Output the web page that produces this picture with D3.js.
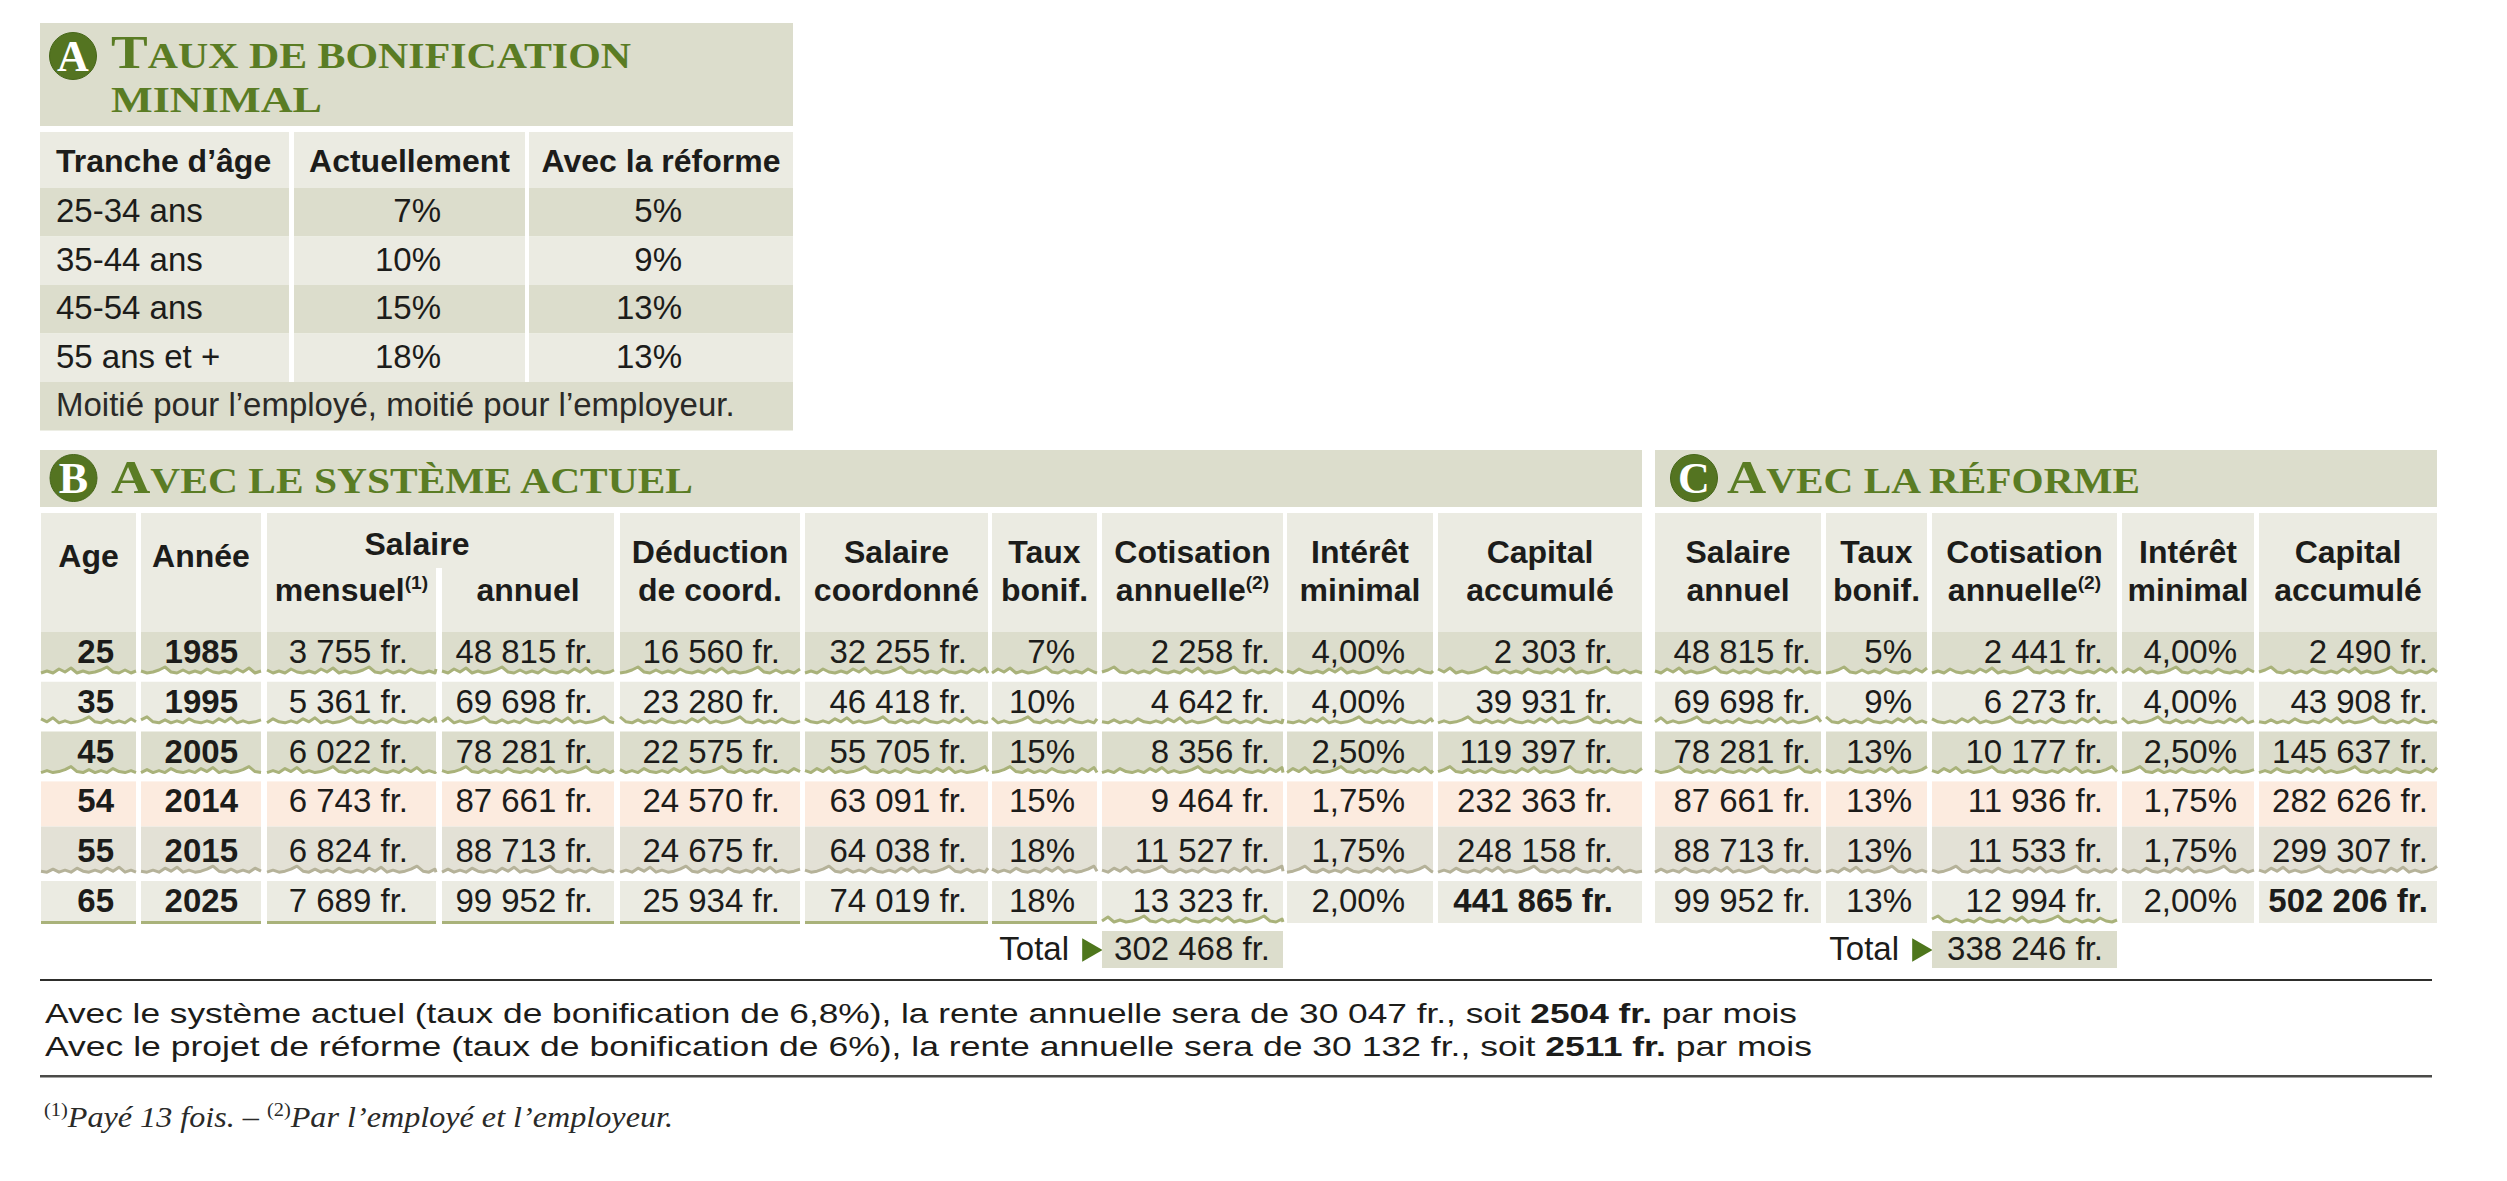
<!DOCTYPE html>
<html>
<head>
<meta charset="utf-8">
<script src="https://cdn.jsdelivr.net/npm/d3@7"></script>
<style>
  body { margin: 0; background: #fff; }
</style>
</head>
<body>
<script>
// ---- Data ----
var tranches = ["25-34 ans", "35-44 ans", "45-54 ans", "55 ans et +"];
var tauxActuels = [7, 10, 15, 18];
var tauxReforme = [5, 9, 13, 13];

var ages = [25, 35, 45, 54, 55, 65];
var annees = [1985, 1995, 2005, 2014, 2015, 2025];
var salaireMensuel = [3755, 5361, 6022, 6743, 6824, 7689];
var salaireAnnuel = [48815, 69698, 78281, 87661, 88713, 99952];
var deductionCoord = [16560, 23280, 22575, 24570, 24675, 25934];
var salaireCoord = [32255, 46418, 55705, 63091, 64038, 74019];
var bonifActuel = [7, 10, 15, 15, 18, 18];
var cotisationActuel = [2258, 4642, 8356, 9464, 11527, 13323];
var interetMinimal = [4, 4, 2.5, 1.75, 1.75, 2];
var capitalActuel = [2303, 39931, 119397, 232363, 248158, 441865];

var bonifReforme = [5, 9, 13, 13, 13, 13];
var cotisationReforme = [2441, 6273, 10177, 11936, 11533, 12994];
var capitalReforme = [2490, 43908, 145637, 282626, 299307, 502206];

var totalActuel = 302468;
var totalReforme = 338246;

var headersA = ["Tranche d\u2019âge", "Actuellement", "Avec la réforme"];
var noteA = "Moitié pour l\u2019employé, moitié pour l\u2019employeur.";
var headersB = [["Age"], ["Année"], ["mensuel^(1)"], ["annuel"], ["Déduction", "de coord."],
                ["Salaire", "coordonné"], ["Taux", "bonif."], ["Cotisation", "annuelle^(2)"],
                ["Intérêt", "minimal"], ["Capital", "accumulé"]];
var headersC = [["Salaire", "annuel"], ["Taux", "bonif."], ["Cotisation", "annuelle^(2)"],
                ["Intérêt", "minimal"], ["Capital", "accumulé"]];

// ---- Styles ----
var sans = "'Liberation Sans', Arial, Helvetica, sans-serif";
var serif = "'Liberation Serif', 'Times New Roman', serif";
var ink = "#1c1c1a";
var green = "#5a7c24";
var badge = "#547421";
var fills = { dark: "#dcddcc", light: "#ebebe2", pink: "#fcebdf", grey: "#e3e1d6" };
var jagColor = "#a9b27a", jagGrey = "#b5b299";

var loc = d3.formatLocale({ decimal: ",", thousands: " ", grouping: [3], currency: ["", ""] });
var fInt = loc.format(",d"), fDec = loc.format(",.2f");
var money = function(v) { return fInt(v) + " fr."; };
var pct = function(v) { return v + "%"; };
var pct2 = function(v) { return fDec(v) + "%"; };

var svg = d3.select("body").append("svg")
    .attr("width", 2507)
    .attr("height", 1181);

// text helper, "^(n)" marks a superscript note
function label(g, x, y, str, o) {
    o = o || {};
    var t = g.append("text")
        .attr("x", x).attr("y", y)
        .attr("font-family", o.family || sans)
        .attr("font-size", o.size || 33)
        .attr("font-weight", o.bold ? "bold" : "normal")
        .attr("text-anchor", o.anchor || "start")
        .attr("fill", o.fill || ink);
    var parts = String(str).split("^");
    t.append("tspan").text(parts[0]);
    if (parts[1]) {
        t.append("tspan").attr("font-size", (o.size || 33) * 0.6).attr("dy", -12).text(parts[1]);
    }
    return t;
}

function titleBadge(g, cx, cy, letter) {
    g.append("circle").attr("cx", cx).attr("cy", cy).attr("r", 23.5)
        .attr("fill", badge).attr("stroke", "#46661a").attr("stroke-width", 1);
    g.append("text").attr("x", cx).attr("y", cy + 15)
        .attr("text-anchor", "middle")
        .attr("font-family", serif).attr("font-weight", "bold")
        .attr("font-size", 44).attr("fill", "#fff")
        .text(letter);
}

function smallCaps(g, x, y, str, firstBig, len) {
    var t = g.append("text").attr("x", x).attr("y", y)
        .attr("font-family", serif).attr("font-weight", "bold").attr("fill", green);
    if (firstBig) {
        t.append("tspan").attr("font-size", 46).text(str[0].toUpperCase());
        t.append("tspan").attr("font-size", 35).text(str.slice(1).toUpperCase());
    } else {
        t.append("tspan").attr("font-size", 35).text(str.toUpperCase());
    }
    t.attr("textLength", len).attr("lengthAdjust", "spacingAndGlyphs");
}

// torn-edge line under a cell
var jagPattern = [0, 2, 0, 4, 1, 5, 0, 2, 0, 1, 3, 6, 1, 0, 3, 0, 2, 0, 4, 1];
function jagPoints(x0, x1, yb, seed) {
    var pts = [], k = 0;
    for (var x = x0; x < x1; x += 6, k++) {
        pts.push([x, yb - jagPattern[(k + seed) % jagPattern.length]]);
    }
    pts.push([x1, yb - jagPattern[(k + seed) % jagPattern.length]]);
    return pts;
}

// ================= A : Taux de bonification minimal =================
var gA = svg.append("g").attr("id", "table-a");
var aX0 = 40, aX1 = 793;
gA.append("rect").attr("x", aX0).attr("y", 23).attr("width", aX1 - aX0).attr("height", 103).attr("fill", fills.dark);
titleBadge(gA, 73, 56, "A");
smallCaps(gA, 111, 68, "Taux de bonification", true, 520);
smallCaps(gA, 111, 112, "minimal", false, 211);

var colsA = [{ x0: 40, x1: 289 }, { x0: 294, x1: 525 }, { x0: 529, x1: 793 }];
var yA = d3.scaleBand().domain(d3.range(tranches.length + 1)).range([188, 430.5]);

colsA.forEach(function(c) {
    gA.append("rect").attr("x", c.x0).attr("y", 132).attr("width", c.x1 - c.x0).attr("height", 56.5).attr("fill", fills.light);
    gA.selectAll(null).data(tranches).enter().append("rect")
        .attr("x", c.x0).attr("y", function(d, i) { return yA(i); })
        .attr("width", c.x1 - c.x0).attr("height", yA.bandwidth())
        .attr("fill", function(d, i) { return i % 2 ? fills.light : fills.dark; });
});
gA.append("rect").attr("x", aX0).attr("y", yA(tranches.length)).attr("width", aX1 - aX0)
    .attr("height", yA.bandwidth()).attr("fill", fills.dark);

label(gA, 56, 172, headersA[0], { bold: true, size: 32 });
label(gA, 409.5, 172, headersA[1], { bold: true, size: 32, anchor: "middle" });
label(gA, 661, 172, headersA[2], { bold: true, size: 32, anchor: "middle" });

tranches.forEach(function(t, i) {
    var by = yA(i) + 34;
    label(gA, 56, by, t);
    label(gA, 441, by, pct(tauxActuels[i]), { anchor: "end" });
    label(gA, 682, by, pct(tauxReforme[i]), { anchor: "end" });
});
label(gA, 56, yA(tranches.length) + 34, noteA, { fill: "#2a2a28" });

// ================= B and C : detail tables =================
var rowKind = ["dark", "light", "dark", "pink", "grey", "light"];
var yB = d3.scaleBand().domain(d3.range(ages.length)).range([632, 632 + 49.8 * ages.length]);
function rowTop(i) {
    if (i > 0 && rowKind[i - 1] === "pink") return yB(i - 1) + 45;
    return yB(i);
}

function drawCells(g, col, ci) {
    col.values.forEach(function(v, i) {
        var top = rowTop(i), fill = fills[rowKind[i]];
        var last = i === col.values.length - 1;
        var kind = rowKind[i] === "pink" ? "pink" : (last ? col.lastEdge : "jag");
        var yb = yB(i) + 41;
        if (kind === "jag") {
            var pts = jagPoints(col.x0, col.x1, yb, ci * 7 + i * 3);
            var poly = [[col.x0, top], [col.x1, top]].concat(pts.slice().reverse());
            g.append("path").attr("d", d3.line()(poly) + "Z").attr("fill", fill);
            g.append("path").attr("d", d3.line()(pts)).attr("fill", "none")
                .attr("stroke", rowKind[i] === "grey" ? jagGrey : jagColor)
                .attr("stroke-width", 3).attr("stroke-linejoin", "round");
        } else if (kind === "pink") {
            g.append("rect").attr("x", col.x0).attr("y", top).attr("width", col.x1 - col.x0)
                .attr("height", 45).attr("fill", fill);
        } else if (kind === "line") {
            g.append("rect").attr("x", col.x0).attr("y", top).attr("width", col.x1 - col.x0)
                .attr("height", yb - top).attr("fill", fill);
            g.append("rect").attr("x", col.x0).attr("y", yb - 1).attr("width", col.x1 - col.x0)
                .attr("height", 3).attr("fill", jagColor);
        } else {
            g.append("rect").attr("x", col.x0).attr("y", top).attr("width", col.x1 - col.x0)
                .attr("height", yb + 1 - top).attr("fill", fill);
        }
        var boldCell = col.bold || (last && col.boldLast);
        label(g, col.tx, yB(i) + 31, col.fmt(v), { anchor: "end", bold: boldCell });
    });
}

function drawHeader(g, col, lines) {
    var cx = (col.x0 + col.x1) / 2;
    if (lines.length === 2) {
        label(g, cx, 563, lines[0], { bold: true, size: 32, anchor: "middle" });
        label(g, cx, 601, lines[1], { bold: true, size: 32, anchor: "middle" });
    } else if (col.under) {
        label(g, cx, 601, lines[0], { bold: true, size: 32, anchor: "middle" });
    } else {
        label(g, cx, 567, lines[0], { bold: true, size: 32, anchor: "middle" });
    }
}

function drawTotal(g, col, value) {
    label(g, col.x0 - 33, 960, "Total", { anchor: "end" });
    g.append("path")
        .attr("d", d3.symbol(d3.symbolTriangle, 240)())
        .attr("transform", "translate(" + (col.x0 - 13) + ",950) rotate(90)")
        .attr("fill", "#4e761c");
    g.append("rect").attr("x", col.x0).attr("y", 931).attr("width", col.x1 - col.x0)
        .attr("height", 37).attr("fill", fills.dark);
    label(g, col.tx, 960, money(value), { anchor: "end" });
}

// ---- B ----
var gB = svg.append("g").attr("id", "table-b");
gB.append("rect").attr("x", 40).attr("y", 450).attr("width", 1602).attr("height", 57).attr("fill", fills.dark);
titleBadge(gB, 73.5, 478, "B");
smallCaps(gB, 111, 493, "Avec le système actuel", true, 582);

var colsB = [
    { values: ages, fmt: String, bold: true, x0: 41, x1: 136, tx: 114, lastEdge: "line" },
    { values: annees, fmt: String, bold: true, x0: 141, x1: 261, tx: 238, lastEdge: "line" },
    { values: salaireMensuel, fmt: money, x0: 267, x1: 436, tx: 408, lastEdge: "line", under: true },
    { values: salaireAnnuel, fmt: money, x0: 442, x1: 614, tx: 593, lastEdge: "line", under: true },
    { values: deductionCoord, fmt: money, x0: 620, x1: 800, tx: 780, lastEdge: "line" },
    { values: salaireCoord, fmt: money, x0: 805, x1: 988, tx: 967, lastEdge: "line" },
    { values: bonifActuel, fmt: pct, x0: 992, x1: 1097, tx: 1075, lastEdge: "line" },
    { values: cotisationActuel, fmt: money, x0: 1102, x1: 1283, tx: 1270, lastEdge: "jag" },
    { values: interetMinimal, fmt: pct2, x0: 1287, x1: 1433, tx: 1405, lastEdge: "none" },
    { values: capitalActuel, fmt: money, x0: 1438, x1: 1642, tx: 1613, lastEdge: "none", boldLast: true }
];

colsB.forEach(function(c, ci) {
    if (!c.under) {
        gB.append("rect").attr("x", c.x0).attr("y", 513).attr("width", c.x1 - c.x0).attr("height", 119).attr("fill", fills.light);
    }
});
// merged "Salaire" header over mensuel / annuel
gB.append("rect").attr("x", colsB[2].x0).attr("y", 513).attr("width", colsB[3].x1 - colsB[2].x0)
    .attr("height", 119).attr("fill", fills.light);
gB.append("rect").attr("x", colsB[2].x1).attr("y", 568).attr("width", colsB[3].x0 - colsB[2].x1)
    .attr("height", 64).attr("fill", "#fff");
label(gB, 417, 555, "Salaire", { bold: true, size: 32, anchor: "middle" });

colsB.forEach(function(c, ci) {
    drawHeader(gB, c, headersB[ci]);
    drawCells(gB, c, ci);
});
drawTotal(gB, colsB[7], totalActuel);

// ---- C ----
var gC = svg.append("g").attr("id", "table-c");
gC.append("rect").attr("x", 1655).attr("y", 450).attr("width", 782).attr("height", 57).attr("fill", fills.dark);
titleBadge(gC, 1694, 478, "C");
smallCaps(gC, 1727, 493, "Avec la réforme", true, 413);

var colsC = [
    { values: salaireAnnuel, fmt: money, x0: 1655, x1: 1821, tx: 1811, lastEdge: "none" },
    { values: bonifReforme, fmt: pct, x0: 1826, x1: 1927, tx: 1912, lastEdge: "none" },
    { values: cotisationReforme, fmt: money, x0: 1932, x1: 2117, tx: 2103, lastEdge: "jag" },
    { values: interetMinimal, fmt: pct2, x0: 2122, x1: 2254, tx: 2237, lastEdge: "none" },
    { values: capitalReforme, fmt: money, x0: 2259, x1: 2437, tx: 2428, lastEdge: "none", boldLast: true }
];
colsC.forEach(function(c, ci) {
    gC.append("rect").attr("x", c.x0).attr("y", 513).attr("width", c.x1 - c.x0).attr("height", 119).attr("fill", fills.light);
    drawHeader(gC, c, headersC[ci]);
    drawCells(gC, c, ci + 3);
});
drawTotal(gC, colsC[2], totalReforme);

// ================= Summary =================
var gS = svg.append("g").attr("id", "summary");
gS.append("rect").attr("x", 40).attr("y", 979).attr("width", 2392).attr("height", 2).attr("fill", "#2e2e2c");
gS.append("rect").attr("x", 40).attr("y", 1075).attr("width", 2392).attr("height", 2.5).attr("fill", "#4a4a48");

function summaryLine(y, pre, bold, post, len) {
    var t = gS.append("text").attr("x", 45).attr("y", y)
        .attr("font-family", sans).attr("font-size", 28).attr("fill", ink);
    t.append("tspan").text(pre);
    t.append("tspan").attr("font-weight", "bold").text(bold);
    t.append("tspan").text(post);
    t.attr("textLength", len).attr("lengthAdjust", "spacingAndGlyphs");
}
summaryLine(1023, "Avec le système actuel (taux de bonification de 6,8%), la rente annuelle sera de 30 047 fr., soit ", "2504 fr.", " par mois", 1752);
summaryLine(1056, "Avec le projet de réforme (taux de bonification de 6%), la rente annuelle sera de 30 132 fr., soit ", "2511 fr.", " par mois", 1767);

var fn = gS.append("text").attr("x", 44).attr("y", 1127)
    .attr("font-family", serif).attr("font-size", 30).attr("font-style", "italic").attr("fill", "#2a2a28");
fn.append("tspan").attr("font-size", 19).attr("font-style", "normal").attr("dy", -11).text("(1)");
fn.append("tspan").attr("dy", 11).text("Payé 13 fois. \u2013 ");
fn.append("tspan").attr("font-size", 19).attr("font-style", "normal").attr("dy", -11).text("(2)");
fn.append("tspan").attr("dy", 11).text("Par l\u2019employé et l\u2019employeur.");
fn.attr("textLength", 629).attr("lengthAdjust", "spacingAndGlyphs");
</script>
</body>
</html>
